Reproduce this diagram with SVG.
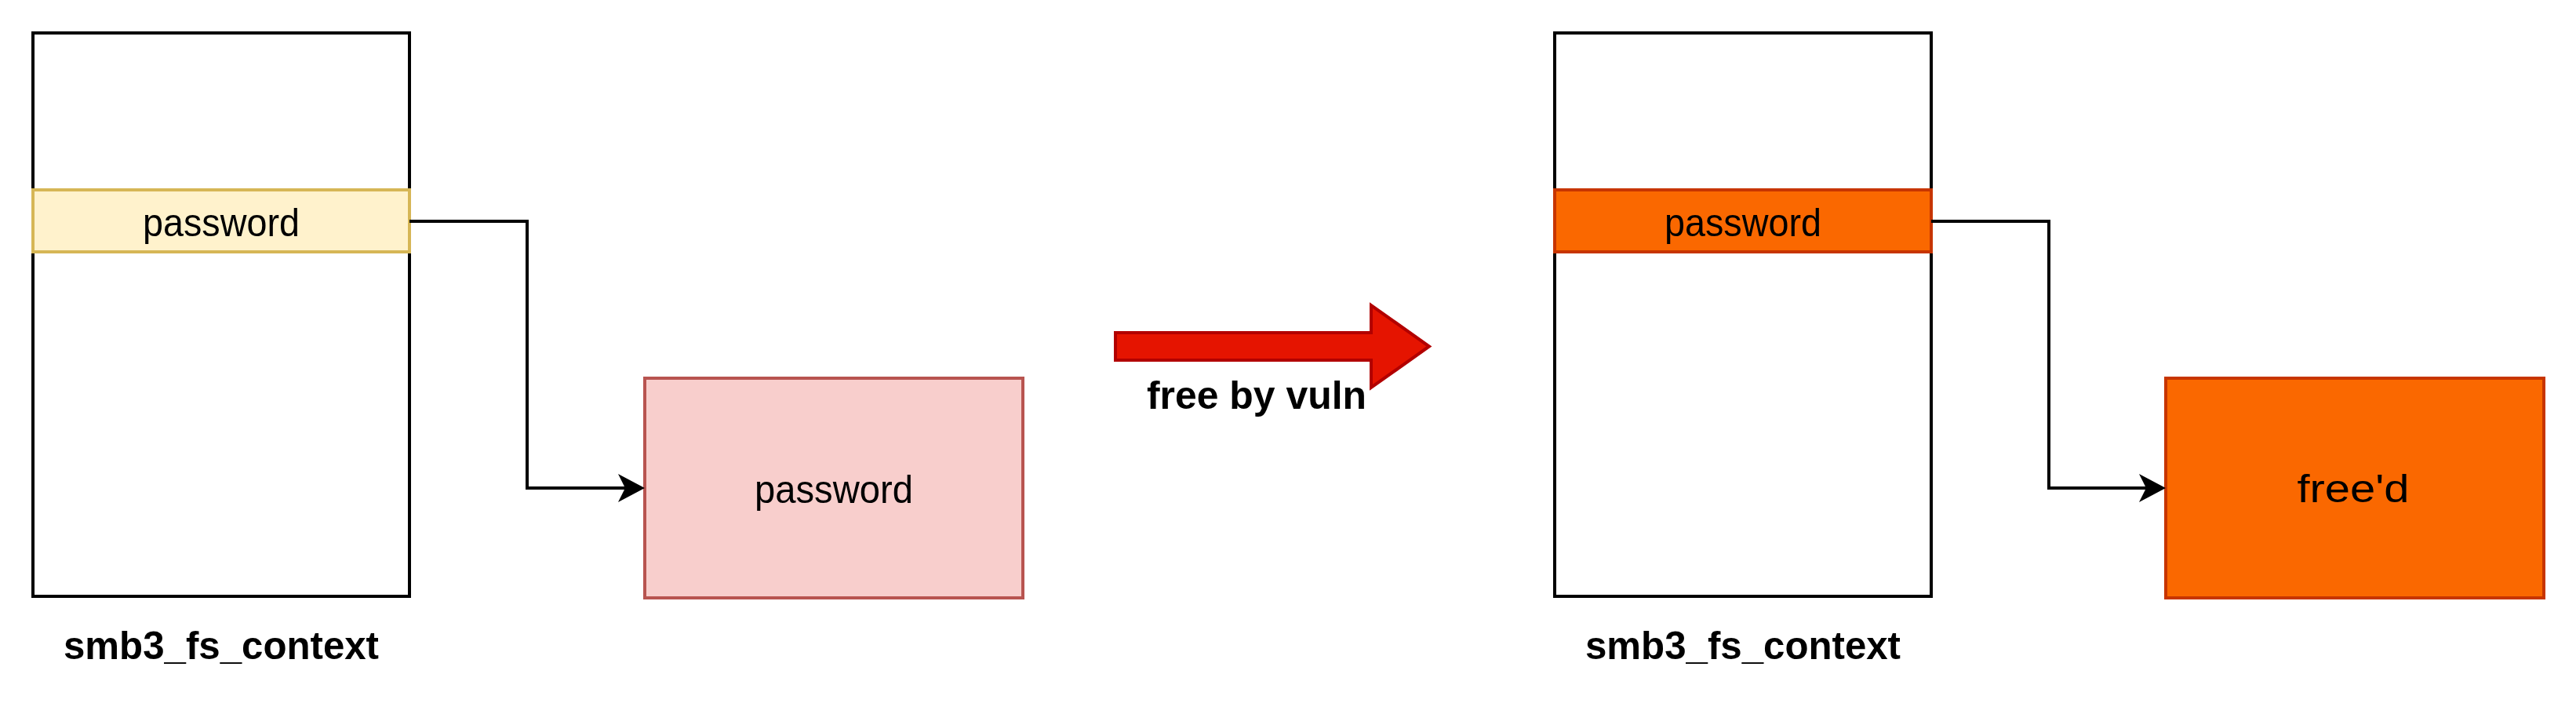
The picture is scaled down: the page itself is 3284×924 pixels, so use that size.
<svg xmlns="http://www.w3.org/2000/svg" width="3284" height="924" viewBox="0 0 3284 924">
  <style>
    .box { fill: #ffffff; stroke: #000000; stroke-width: 4; }
    .yellow { fill: #fff2cc; stroke: #d6b656; stroke-width: 4; }
    .pink { fill: #f8cecc; stroke: #b85450; stroke-width: 4; }
    .orange { fill: #fa6800; stroke: #c73500; stroke-width: 4; }
    .lbl { font-family: "Liberation Sans", Arial, sans-serif; font-size: 50px; fill: #000000; text-anchor: middle; }
    .bold { font-weight: bold; }
    .edge { fill: none; stroke: #000000; stroke-width: 4; }
  </style>
  <defs>
    <marker id="arr" markerUnits="userSpaceOnUse" markerWidth="34" markerHeight="36" viewBox="0 0 34 36" refX="9" refY="18" orient="auto">
      <path d="M0,0 L34,18 L0,36 L9,18 Z" fill="#000000"/>
    </marker>
  </defs>
  <rect width="3284" height="924" fill="#ffffff"/>

  <g id="left-struct">
    <rect class="box" x="42" y="42" width="480" height="718"/>
    <text class="lbl bold" x="282" y="840" textLength="402" lengthAdjust="spacingAndGlyphs">smb3_fs_context</text>
  </g>
  <g id="left-password-field">
    <rect class="yellow" x="42" y="242" width="480" height="79"/>
    <text class="lbl" x="282" y="301" textLength="200" lengthAdjust="spacingAndGlyphs">password</text>
  </g>
  <g id="left-password-buffer">
    <rect class="pink" x="822" y="482" width="482" height="280"/>
    <text class="lbl" x="1063" y="641" textLength="202" lengthAdjust="spacingAndGlyphs">password</text>
  </g>

  <g id="transition-arrow">
    <polygon points="1422,424 1748,424 1748,389 1822,441.5 1748,494 1748,459 1422,459" fill="#e51400" stroke="#b20000" stroke-width="4"/>
    <text class="lbl bold" x="1602" y="521" textLength="280" lengthAdjust="spacingAndGlyphs">free by vuln</text>
  </g>

  <g id="right-struct">
    <rect class="box" x="1982" y="42" width="480" height="718"/>
    <text class="lbl bold" x="2222" y="840" textLength="402" lengthAdjust="spacingAndGlyphs">smb3_fs_context</text>
  </g>
  <g id="right-password-field">
    <rect class="orange" x="1982" y="242" width="480" height="79"/>
    <text class="lbl" x="2222" y="301" textLength="200" lengthAdjust="spacingAndGlyphs">password</text>
  </g>
  <g id="right-freed-buffer">
    <rect class="orange" x="2761" y="482" width="482" height="280"/>
    <text class="lbl" x="3000" y="640" textLength="143" lengthAdjust="spacingAndGlyphs">free'd</text>
  </g>

  <g id="connectors">
    <path class="edge" d="M522,282 L672,282 L672,622 L797,622" marker-end="url(#arr)"/>
    <path class="edge" d="M2462,282 L2612,282 L2612,622 L2736,622" marker-end="url(#arr)"/>
  </g>
</svg>
